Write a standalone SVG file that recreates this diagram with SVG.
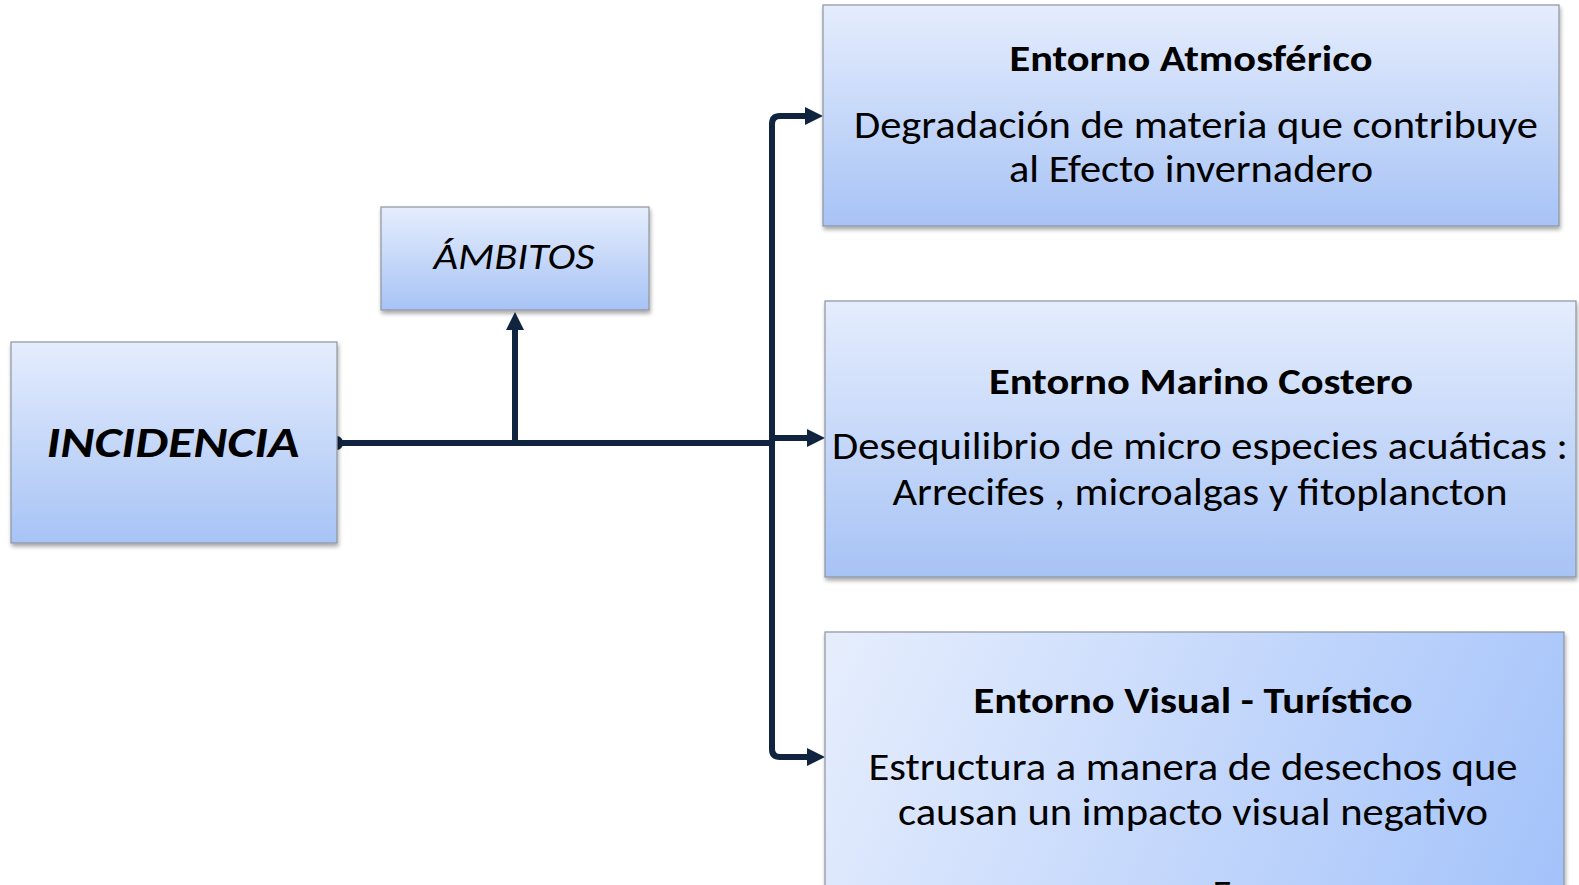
<svg xmlns="http://www.w3.org/2000/svg" width="1579" height="885" viewBox="0 0 1579 885">
  <style>
    .box { stroke: #8e949e; stroke-width: 1.2; filter: url(#shadow); }
    .conn { fill: none; stroke: #10243f; stroke-width: 6; stroke-linejoin: round; }
    .t { font-family: Carlito, "Liberation Sans", Arial, sans-serif; fill: #000; text-anchor: middle; }
    .title { font-size: 37px; font-weight: bold; }
    .body { font-size: 39px; }
  </style>
  <defs>
    <linearGradient id="gv" x1="0" y1="0" x2="0" y2="1">
      <stop offset="0" stop-color="#e5edfd"/>
      <stop offset="1" stop-color="#a7c3f5"/>
    </linearGradient>
    <linearGradient id="gd" gradientUnits="userSpaceOnUse" x1="840" y1="640" x2="1540" y2="960">
      <stop offset="0" stop-color="#e5edfd"/>
      <stop offset="1" stop-color="#a3c2fa"/>
    </linearGradient>
    <filter id="shadow" x="-5%" y="-5%" width="115%" height="120%">
      <feGaussianBlur in="SourceAlpha" stdDeviation="2"/>
      <feOffset dx="1" dy="3" result="b"/>
      <feComponentTransfer><feFuncA type="linear" slope="0.35"/></feComponentTransfer>
      <feMerge><feMergeNode/><feMergeNode in="SourceGraphic"/></feMerge>
    </filter>
    <marker id="arrow" viewBox="0 0 18 18" markerWidth="18" markerHeight="18" markerUnits="userSpaceOnUse" refX="0" refY="9" orient="auto">
      <path d="M0,0 L18,9 L0,18 z" fill="#10243f"/>
    </marker>
    <marker id="dot" viewBox="0 0 16 16" markerWidth="16" markerHeight="16" markerUnits="userSpaceOnUse" refX="8" refY="8" orient="auto">
      <ellipse cx="8" cy="8" rx="6" ry="7" fill="#10243f"/>
    </marker>
  </defs>

  <g id="connectors">
    <path class="conn" d="M 337 443 H 515 V 330" marker-start="url(#dot)" marker-end="url(#arrow)"/>
    <path class="conn" d="M 515 443 H 772 V 124 Q 772 116 780 116 H 805" marker-end="url(#arrow)"/>
    <path class="conn" d="M 772 438 H 807" marker-end="url(#arrow)"/>
    <path class="conn" d="M 772 443 V 749 Q 772 757 780 757 H 807" marker-end="url(#arrow)"/>
  </g>

  <g id="node-incidencia">
    <rect class="box" x="11" y="342" width="326" height="201" fill="url(#gv)"/>
    <text class="t" x="173" y="457" font-size="43" font-weight="bold" font-style="italic" textLength="253" lengthAdjust="spacingAndGlyphs">INCIDENCIA</text>
  </g>

  <g id="node-ambitos">
    <rect class="box" x="381" y="207" width="268" height="103" fill="url(#gv)"/>
    <text class="t" x="514" y="269" font-size="36" font-style="italic" textLength="161" lengthAdjust="spacingAndGlyphs">ÁMBITOS</text>
  </g>

  <g id="node-atmosferico">
    <rect class="box" x="823" y="5" width="736" height="221" fill="url(#gv)"/>
    <text class="t title" x="1191" y="71" textLength="363" lengthAdjust="spacingAndGlyphs">Entorno Atmosférico</text>
    <text class="t body" x="1196" y="138" textLength="684" lengthAdjust="spacingAndGlyphs">Degradación de materia que contribuye</text>
    <text class="t body" x="1191" y="182" textLength="364" lengthAdjust="spacingAndGlyphs">al Efecto invernadero</text>
  </g>

  <g id="node-marino">
    <rect class="box" x="825" y="301" width="751" height="276" fill="url(#gv)"/>
    <text class="t title" x="1201" y="394" textLength="424" lengthAdjust="spacingAndGlyphs">Entorno Marino Costero</text>
    <text class="t body" x="1200" y="459" textLength="736" lengthAdjust="spacingAndGlyphs">Desequilibrio de micro especies acuáticas :</text>
    <text class="t body" x="1200" y="505" textLength="615" lengthAdjust="spacingAndGlyphs">Arrecifes , microalgas y fitoplancton</text>
  </g>

  <g id="node-visual">
    <rect class="box" x="825" y="632" width="739" height="330" fill="url(#gd)"/>
    <text class="t title" x="1193" y="713" textLength="439" lengthAdjust="spacingAndGlyphs">Entorno Visual - Turístico</text>
    <text class="t body" x="1193" y="780" textLength="649" lengthAdjust="spacingAndGlyphs">Estructura a manera de desechos que</text>
    <text class="t body" x="1193" y="825" textLength="590" lengthAdjust="spacingAndGlyphs">causan un impacto visual negativo</text>
    <text class="t body" x="1222" y="907">E</text>
  </g>
</svg>
